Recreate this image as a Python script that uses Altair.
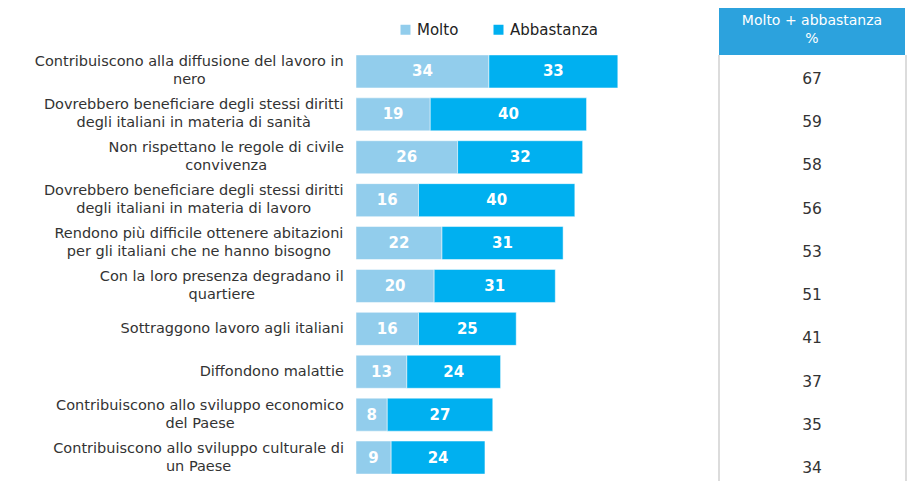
import altair as alt
import pandas as pd

labels = [
    "Contribuiscono alla diffusione del lavoro in\nnero",
    "Dovrebbero beneficiare degli stessi diritti\ndegli italiani in materia di sanità",
    "Non rispettano le regole di civile\nconvivenza",
    "Dovrebbero beneficiare degli stessi diritti\ndegli italiani in materia di lavoro",
    "Rendono più difficile ottenere abitazioni\nper gli italiani che ne hanno bisogno",
    "Con la loro presenza degradano il\nquartiere",
    "Sottraggono lavoro agli italiani",
    "Diffondono malattie",
    "Contribuiscono allo sviluppo economico\ndel Paese",
    "Contribuiscono allo sviluppo culturale di\nun Paese",
]
molto = [34, 19, 26, 16, 22, 20, 16, 13, 8, 9]
abbastanza = [33, 40, 32, 40, 31, 31, 25, 24, 27, 24]
totale = [67, 59, 58, 56, 53, 51, 41, 37, 35, 34]
series = ["Molto", "Abbastanza"]
colors = ["#92CDEC", "#00B0F0"]
header_lines = ["Molto + abbastanza", "%"]

FONT = "DejaVu Sans"
LABEL_SIZE = 14.5
RIGHT_EDGE = -12

# approximate DejaVu Sans advance widths (em) used to centre each wrapped label block
_W = {" ": .318, "a": .613, "b": .635, "c": .550, "d": .635, "e": .615, "f": .352,
      "g": .635, "h": .634, "i": .278, "l": .278, "m": .974, "n": .634, "o": .612,
      "p": .635, "q": .635, "r": .411, "s": .521, "t": .392, "u": .634, "v": .592,
      "z": .525, "C": .698, "D": .770, "N": .748, "P": .603, "R": .695, "S": .635,
      "à": .613, "ù": .634, "ì": .278}


def block_width(txt):
    return max(sum(_W.get(ch, .6) for ch in line) for line in txt.split("\n")) * LABEL_SIZE


keys = [f"r{i}" for i in range(len(labels))]

rows = []
for i, k in enumerate(keys):
    rows.append({"key": k, "serie": "Molto", "ord": 0, "value": molto[i]})
    rows.append({"key": k, "serie": "Abbastanza", "ord": 1, "value": abbastanza[i]})
df = pd.DataFrame(rows)
df_lab = pd.DataFrame({
    "key": keys, "label": labels, "tot": totale,
    "xc": [RIGHT_EDGE - block_width(t) / 2 for t in labels],
    "multi": ["\n" in t for t in labels],
})
df_head = pd.DataFrame({"h": ["\n".join(header_lines)]})

yb = alt.Y("key:N", sort=keys, axis=None,
           scale=alt.Scale(domain=keys, range=[42, 471], paddingInner=0.23, paddingOuter=0.115))
xs = alt.Scale(domain=[0, 141], nice=False, zero=True)

base = alt.Chart(df).transform_stack(
    stack="value", groupby=["key"], as_=["x0", "x1"], sort=[alt.SortField("ord")]
)

bars = base.mark_bar(stroke="white", strokeWidth=0.5).encode(
    y=yb,
    x=alt.X("x0:Q", scale=xs, axis=None),
    x2="x1:Q",
    color=alt.Color("serie:N", scale=alt.Scale(domain=series, range=colors),
                    legend=alt.Legend(title=None, orient="none", legendX=42, legendY=14,
                                      direction="horizontal", symbolType="square",
                                      symbolSize=100, labelFontSize=15, labelFont=FONT,
                                      labelColor="#222", columnPadding=32, labelOffset=4,
                                      symbolStrokeWidth=0)),
    order=alt.Order("ord:Q"),
)

bar_text = base.transform_calculate(mid="(datum.x0 + datum.x1) / 2").mark_text(
    color="white", fontWeight="bold", fontSize=15, font=FONT, baseline="middle"
).encode(
    y=yb,
    x=alt.X("mid:Q", scale=xs),
    text="value:Q",
)


def cat_layer(multi, dy):
    return alt.Chart(df_lab).transform_filter(
        alt.datum.multi == multi
    ).mark_text(
        align="center", baseline="middle", lineBreak="\n", fontSize=LABEL_SIZE, font=FONT,
        color="#333333", lineHeight=18, dy=dy
    ).encode(
        y=yb,
        x=alt.X("xc:Q", scale=None),
        text="label:N",
    )


cat_multi = cat_layer(True, -9)
cat_single = cat_layer(False, 0)

head_rect = alt.Chart(df_head).mark_rect(color="#2CA2DD").encode(
    x=alt.value(363), x2=alt.value(549), y=alt.value(0), y2=alt.value(47)
)
head_text = alt.Chart(df_head).mark_text(
    color="white", fontSize=14, font=FONT, lineBreak="\n", baseline="top", lineHeight=18
).encode(
    x=alt.value(456), y=alt.value(6), text="h:N"
)
vlines = alt.Chart(pd.DataFrame({"xp": [363, 550]})).mark_rule(
    color="#dcdcdc", strokeWidth=2
).encode(
    x=alt.X("xp:Q", scale=None), y=alt.value(47), y2=alt.value(473)
)

tab_text = alt.Chart(df_lab).mark_text(
    fontSize=15.5, font=FONT, color="#333333", baseline="middle"
).encode(
    y=alt.Y("key:N", sort=keys, axis=None,
            scale=alt.Scale(domain=keys, range=[49, 482], paddingInner=0, paddingOuter=0)),
    x=alt.value(456),
    text="tot:Q",
)

chart = alt.layer(bars, bar_text, cat_multi, cat_single, head_rect, head_text, vlines,
                  tab_text).resolve_scale(
    y="independent"
).properties(
    width=551, height=473,
    autosize=alt.AutoSizeParams(type="none"),
    padding={"left": 348, "top": 0, "right": 0, "bottom": 0},
).configure_view(stroke=None)

chart.save("out.html", embed_options={"renderer": "svg", "actions": False})
